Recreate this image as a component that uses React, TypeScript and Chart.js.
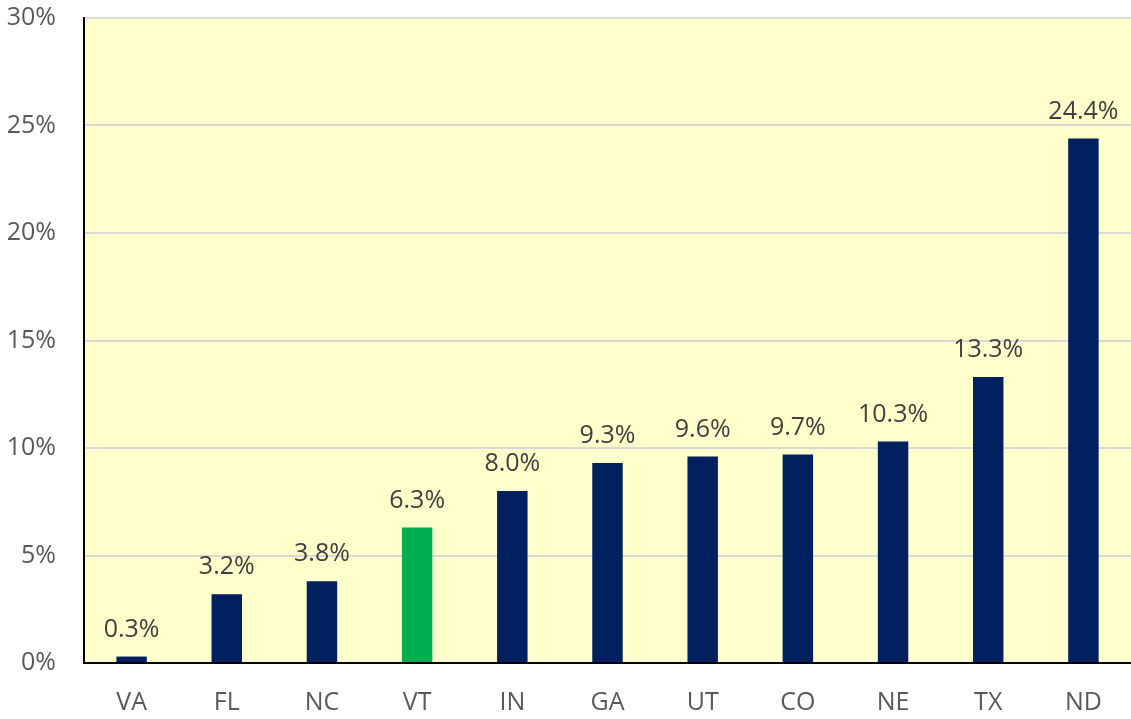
import React, { useEffect, useRef } from "react";
import { Chart, registerables } from "chart.js";

Chart.register(...registerables);

const categories = ["VA", "FL", "NC", "VT", "IN", "GA", "UT", "CO", "NE", "TX", "ND"];
const values = [0.3, 3.2, 3.8, 6.3, 8.0, 9.3, 9.6, 9.7, 10.3, 13.3, 24.4];
const highlight = "VT";
const yTicks = [0, 5, 10, 15, 20, 25, 30];

const FONT = "'Open Sans', 'Noto Sans', sans-serif";

const bgPlugin = {
  id: "plotBg",
  beforeDraw(chart: any) {
    const { ctx, chartArea } = chart;
    ctx.save();
    ctx.fillStyle = "#FFFFCC";
    ctx.fillRect(chartArea.left, chartArea.top, chartArea.right - chartArea.left, chartArea.bottom - chartArea.top);
    ctx.restore();
  },
};

const labelPlugin = {
  id: "barLabels",
  afterDatasetsDraw(chart: any) {
    const { ctx } = chart;
    const meta = chart.getDatasetMeta(0);
    ctx.save();
    ctx.font = `25px ${FONT}`;
    ctx.fillStyle = "#404040";
    ctx.textAlign = "center";
    ctx.textBaseline = "middle";
    meta.data.forEach((bar: any, i: number) => {
      ctx.fillText(values[i].toFixed(1) + "%", bar.x, bar.y - 27);
    });
    ctx.restore();
  },
};

export default function App() {
  const ref = useRef<HTMLCanvasElement>(null);
  useEffect(() => {
    document.body.style.margin = "0";
    const chart = new Chart(ref.current!, {
      type: "bar",
      data: {
        labels: categories,
        datasets: [
          {
            data: values,
            backgroundColor: categories.map((c) => (c === highlight ? "#00B050" : "#002060")),
            barPercentage: 0.64,
            categoryPercentage: 0.5,
          },
        ],
      },
      options: {
        animation: false,
        responsive: false,
        maintainAspectRatio: false,
        layout: { padding: { top: 18, right: 0, left: 0, bottom: 0 } },
        plugins: { legend: { display: false }, tooltip: { enabled: false } },
        scales: {
          x: {
            grid: { display: false, drawTicks: false },
            border: { display: true, color: "#000000", width: 2 },
            ticks: { color: "#595959", font: { family: FONT, size: 25 }, padding: 25 },
            afterFit(scale: any) {
              scale.height = 56;
              scale.paddingLeft = 0;
              scale.paddingRight = 0;
            },
          },
          y: {
            min: 0,
            max: 30,
            afterBuildTicks(scale: any) {
              scale.ticks = yTicks.map((v) => ({ value: v }));
            },
            grid: { color: "#D9D9D9", lineWidth: 2, drawTicks: false },
            border: { display: true, color: "#000000", width: 2 },
            ticks: {
              color: "#595959",
              font: { family: FONT, size: 25 },
              padding: 28,
              callback: (v: any) => v + "%",
            },
            afterFit(scale: any) {
              scale.width = 84;
              scale.paddingTop = 0;
              scale.paddingBottom = 0;
            },
          },
        },
      },
      plugins: [bgPlugin, labelPlugin],
    });
    return () => chart.destroy();
  }, []);
  return <canvas ref={ref} width={1131} height={719} style={{ display: "block" }} />;
}
